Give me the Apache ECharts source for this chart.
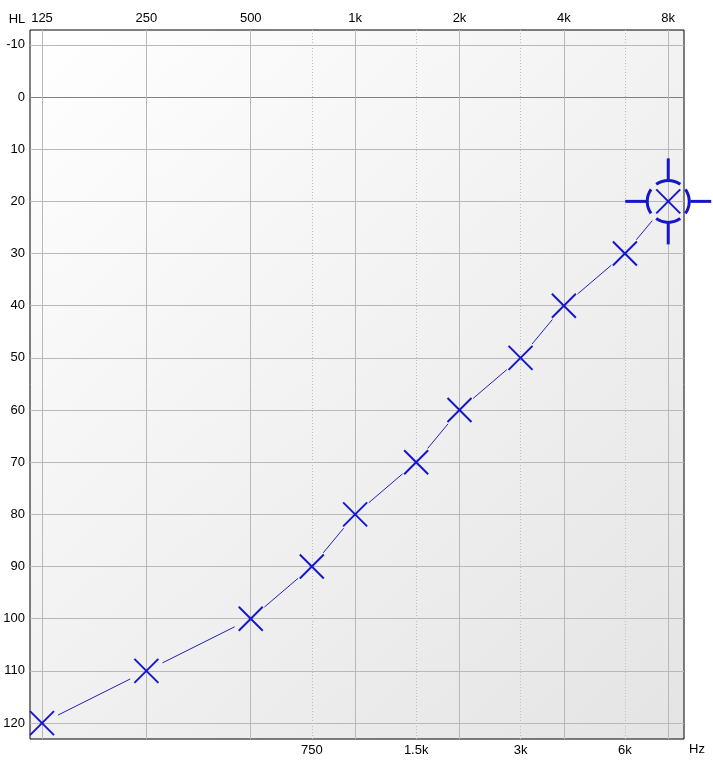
<!DOCTYPE html>
<html>
<head>
<meta charset="utf-8">
<script src="https://cdn.jsdelivr.net/npm/echarts@6/dist/echarts.min.js"></script>
<style>
html,body{margin:0;padding:0;background:#fff;}
#chart{width:713px;height:769px;}
</style>
</head>
<body>
<div id="chart"></div>
<script>
// ---- data ----
const freqHz = [125, 250, 500, 750, 1000, 1500, 2000, 3000, 4000, 6000, 8000];
const hearingLevel = [120, 110, 100, 90, 80, 70, 60, 50, 40, 30, 20];
const selectedIndex = 10;

const octaveTicksHz = [125, 250, 500, 1000, 2000, 4000, 8000];
const octaveTickLabels = ['125', '250', '500', '1k', '2k', '4k', '8k'];
const midTicksHz = [750, 1500, 3000, 6000];
const midTickLabels = ['750', '1.5k', '3k', '6k'];
const hlTicks = [-10, 0, 10, 20, 30, 40, 50, 60, 70, 80, 90, 100, 110, 120];
const hlRefLine = [0];

// octave coordinate relative to 125 Hz
const oct = f => Math.log2(f / 125);
const octTickVals = octaveTicksHz.map(oct);
const midTickVals = midTicksHz.map(oct);
function labelFor(vals, labels) {
  return v => {
    for (let i = 0; i < vals.length; i++) if (Math.abs(vals[i] - v) < 1e-6) return labels[i];
    return '';
  };
}

const X_MIN = -0.115, X_MAX = 6.151;
const Y_MIN = -12.85, Y_MAX = 123.05;

const seriesData = freqHz.map((f, i) => [oct(f), hearingLevel[i]]);

const MARK = '#1515cc';
const LINE = '#2020b8';
const fontFam = '"Liberation Sans", Arial, sans-serif';

const chart = echarts.init(document.getElementById('chart'), null, {renderer: 'canvas'});

function renderItem(params, api) {
  const i = params.dataIndex;
  const p = api.coord([api.value(0), api.value(1)]);
  const children = [];
  const h = 12;
  if (i < seriesData.length - 1) {
    const q = api.coord(seriesData[i + 1]);
    const dx = q[0] - p[0], dy = q[1] - p[1];
    const len = Math.sqrt(dx * dx + dy * dy);
    const g1 = i === selectedIndex ? 25 : 18;
    const g2 = (i + 1) === selectedIndex ? 25 : 18;
    if (len > g1 + g2) {
      children.push({
        type: 'line',
        shape: {x1: p[0] + dx / len * g1, y1: p[1] + dy / len * g1,
                x2: q[0] - dx / len * g2, y2: q[1] - dy / len * g2},
        style: {stroke: LINE, lineWidth: 1}
      });
    }
  }
  children.push({type: 'line', shape: {x1: p[0] - h, y1: p[1] - h, x2: p[0] + h, y2: p[1] + h},
    style: {stroke: MARK, lineWidth: 2}});
  children.push({type: 'line', shape: {x1: p[0] - h, y1: p[1] + h, x2: p[0] + h, y2: p[1] - h},
    style: {stroke: MARK, lineWidth: 2}});
  if (i === selectedIndex) {
    const r = 21, half = 35 * Math.PI / 180;
    const dirs = [0, Math.PI / 2, Math.PI, 3 * Math.PI / 2];
    dirs.forEach(a => {
      children.push({type: 'arc', shape: {cx: p[0], cy: p[1], r: r, startAngle: a - half, endAngle: a + half, clockwise: true},
        style: {stroke: MARK, lineWidth: 3, fill: null}});
      children.push({type: 'line', shape: {
        x1: p[0] + Math.cos(a) * (r + 1), y1: p[1] + Math.sin(a) * (r + 1),
        x2: p[0] + Math.cos(a) * 43, y2: p[1] + Math.sin(a) * 43},
        style: {stroke: MARK, lineWidth: 3}});
    });
  }
  return {type: 'group', children: children};
}

const option = {
  animation: false,
  backgroundColor: '#ffffff',
  grid: {
    left: 30, right: 29, top: 30, bottom: 30,
    show: true,
    borderColor: '#000000',
    borderWidth: 1,
    backgroundColor: new echarts.graphic.LinearGradient(0, 0, 1, 1, [
      {offset: 0, color: '#ffffff'},
      {offset: 1, color: '#e4e4e4'}
    ])
  },
  xAxis: [
    {
      type: 'value', position: 'top', min: X_MIN, max: X_MAX,
      name: 'HL', nameLocation: 'start', nameGap: 4,
      nameTextStyle: {color: '#000', fontSize: 13, fontFamily: fontFam, align: 'right', verticalAlign: 'bottom', padding: [0, 0, 4, 0]},
      axisLine: {show: false, onZero: false},
      axisTick: {show: false, customValues: octTickVals},
      axisLabel: {customValues: octTickVals, formatter: labelFor(octTickVals, octaveTickLabels),
        color: '#000', fontSize: 13, fontFamily: fontFam, margin: 5},
      splitLine: {show: true, lineStyle: {color: '#b8b8b8', width: 1, type: 'solid'}}
    },
    {
      type: 'value', position: 'bottom', min: X_MIN, max: X_MAX,
      name: 'Hz', nameLocation: 'end', nameGap: 5,
      nameTextStyle: {color: '#000', fontSize: 13, fontFamily: fontFam, verticalAlign: 'top', align: 'left', padding: [4, 0, 0, 0]},
      axisLine: {show: false, onZero: false},
      axisTick: {show: false, customValues: midTickVals},
      axisLabel: {customValues: midTickVals, formatter: labelFor(midTickVals, midTickLabels),
        color: '#000', fontSize: 13, fontFamily: fontFam, margin: 5},
      splitLine: {show: true, lineStyle: {color: '#bdbdbd', width: 1, type: [1, 2]}}
    }
  ],
  yAxis: [
    {
      type: 'value', inverse: true, min: Y_MIN, max: Y_MAX, position: 'left',
      axisLine: {show: false, onZero: false},
      axisTick: {show: false, customValues: hlTicks},
      axisLabel: {customValues: hlTicks, color: '#000', fontSize: 13, fontFamily: fontFam, margin: 5},
      splitLine: {show: true, lineStyle: {color: '#b8b8b8', width: 1}}
    },
    {
      type: 'value', inverse: true, min: Y_MIN, max: Y_MAX, position: 'right',
      axisLine: {show: false, onZero: false},
      axisTick: {show: false, customValues: hlRefLine},
      axisLabel: {show: false, customValues: hlRefLine},
      splitLine: {show: true, lineStyle: {color: '#808080', width: 1}}
    }
  ],
  series: [
    {
      type: 'custom',
      xAxisIndex: 0, yAxisIndex: 0,
      renderItem: renderItem,
      data: seriesData,
      clip: false,
      z: 10
    }
  ]
};
chart.setOption(option);
</script>
</body>
</html>
